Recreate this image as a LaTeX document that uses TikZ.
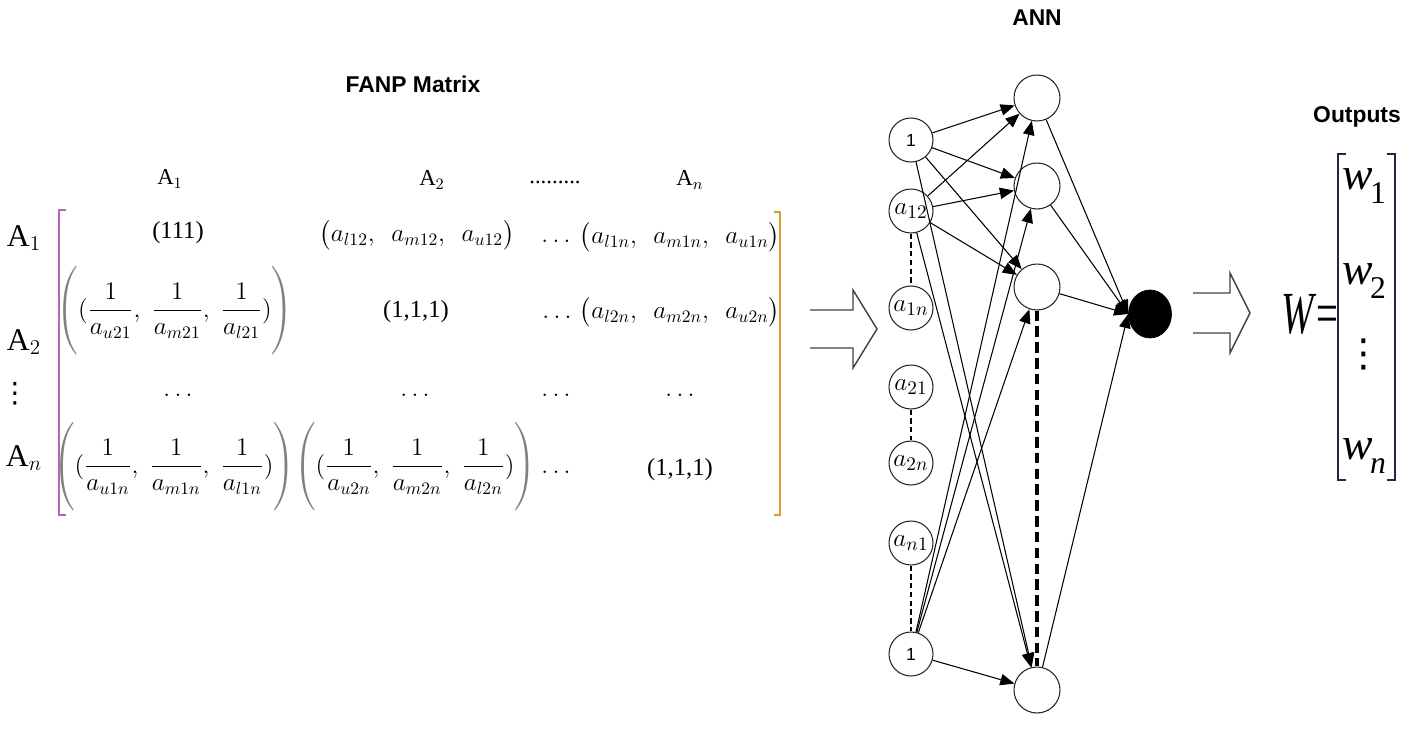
\documentclass[tikz,border=0pt]{standalone}
\usepackage{amsmath,amssymb}
\usepackage{fontspec}
\setmainfont{Liberation Serif}
\setsansfont{Liberation Sans}
\newfontfamily\symfont{DejaVu Sans}
\usepackage{tikz}
\usetikzlibrary{arrows.meta, positioning, shapes.geometric}

\definecolor{leftbar}{RGB}{180,100,185}
\definecolor{rightbar}{RGB}{215,160,45}
\definecolor{outbar}{RGB}{30,40,70}

\newcommand{\fsz}[1]{\fontsize{#1}{#1}\selectfont}
\newcommand{\wout}[1]{\textit{w}\kern-0.05em\raisebox{-0.3em}{\fsz{18}#1}}
\newcommand{\colgap}{\hspace{4pt}}
\newcommand{\tallbox}{\rule[-23pt]{0pt}{50pt}}
\newcommand{\fgroup}[3]{\color{gray}\left(\tallbox\color{black}(\dfrac{1}{#1},\colgap \dfrac{1}{#2},\colgap \dfrac{1}{#3})\color{gray}\right)}

\begin{document}
\begin{tikzpicture}[
    x=0.02cm, y=-0.02cm,
    >={Triangle[length=8pt,width=6.5pt]},
    title/.style={font=\sffamily\bfseries\fsz{13}},
    head/.style={inner sep=0pt, font=\fsz{13}},
    rowlab/.style={inner sep=0pt, font=\fsz{18}},
    entry/.style={inner sep=0pt, font=\fsz{14}},
    neuron/.style={circle, draw=black!85, line width=0.6pt, minimum size=0.88cm, inner sep=0pt, font=\fsz{15}},
    hidden/.style={neuron, minimum size=0.92cm},
    final/.style={ellipse, fill=black, draw=black, minimum width=0.86cm, minimum height=0.96cm},
    arrow/.style={->, line width=0.6pt},
    gap/.style={line width=1.3pt, dash pattern=on 3pt off 2pt},
    biggap/.style={line width=2.4pt, dash pattern=on 6pt off 3pt},
    hollow/.style={line width=0.8pt, draw=black!75, line join=miter}
]
\useasboundingbox (0,0) rectangle (1418,730);

% Titles
\node[title] (fanp) at (413,84) {FANP Matrix};
\node[title] (ann) at (1037,18) {ANN};
\node[title] (outputs) at (1357,117) {Outputs};

% Matrix headers
\node[head] (c1) at (170,179) {A$_1$};
\node[head] (c2) at (432,180) {A$_2$};
\node[head] (cdots) at (555,182) {.........};
\node[head] (cn) at (690,180) {A$_n$};
\node[rowlab] (r1) at (24,238) {A$_1$};
\node[rowlab] (r2) at (24,342) {A$_2$};
\node[inner sep=0pt, font=\symfont\fsz{16}] (rdots) at (15,394) {⋮};
\node[rowlab] (rn) at (24,458) {A$_n$};

% Matrix entries
\node[entry] (e11) at (178,233) {(111)};
\node[entry] (e12) at (417,235) {$\bigl(a_{l12},\ \ a_{m12},\ \ a_{u12}\bigr)$};
\node[entry] (e13) at (556,241) {$\ldots$};
\node[entry] (e14) at (680,237) {$\bigl(a_{l1n},\ \ a_{m1n},\ \ a_{u1n}\bigr)$};
\node[entry] (e21) at (175,312) {$\fgroup{a_{u21}}{a_{m21}}{a_{l21}}$};
\node[entry] (e22) at (416,312) {(1,1,1)};
\node[entry] (e23) at (557,317) {$\ldots$};
\node[entry] (e24) at (680,312) {$\bigl(a_{l2n},\ \ a_{m2n},\ \ a_{u2n}\bigr)$};
\node[entry] (e31) at (178,395) {$\ldots$};
\node[entry] (e32) at (415,395) {$\ldots$};
\node[entry] (e33) at (556,395) {$\ldots$};
\node[entry] (e34) at (680,395) {$\ldots$};
\node[entry] (e41) at (174,468) {$\fgroup{a_{u1n}}{a_{m1n}}{a_{l1n}}$};
\node[entry] (e42) at (415,468) {$\fgroup{a_{u2n}}{a_{m2n}}{a_{l2n}}$};
\node[entry] (e43) at (556,472) {$\ldots$};
\node[entry] (e44) at (680,470) {(1,1,1)};

% Matrix brackets
\draw[leftbar, line width=1.2pt] (66,210) -- (59,210) -- (59,515) -- (66,515);
\draw[rightbar, line width=1.2pt] (774,212) -- (780,212) -- (780,515) -- (774,515);

% Hollow arrows
\draw[hollow] (810,310) -- (853,310) -- (853,290) -- (877,329) -- (853,368) -- (853,348) -- (810,348);
\draw[hollow] (1193,293) -- (1230,293) -- (1230,273) -- (1250,313) -- (1230,353) -- (1230,333) -- (1193,333);

% Input layer
\foreach \name/\y/\lab in {i1/140/{\sffamily\fsz{10}1}, i2/211/{$a_{12}$}, i3/308/{$a_{1n}$},
    i4/387/{$a_{21}$}, i5/463/{$a_{2n}$}, i6/543/{$a_{n1}$}, i7/654/{\sffamily\fsz{10}1}}
  \node[neuron] (\name) at (911,\y) {\lab};

% Hidden layer
\foreach \name/\y in {h1/98, h2/186, h3/287, h4/690}
  \node[hidden] (\name) at (1037,\y) {};

% Output neuron
\node[final] (out) at (1150,314) {};

% Connections
\foreach \s in {i1,i2,i7}
  \foreach \t in {h1,h2,h3,h4}
    \draw[arrow] (\s) -- (\t);
\foreach \t in {h1,h2,h3,h4}
  \draw[arrow] (\t) -- (out.west);

\draw[gap] (i2) -- (i3);
\draw[gap] (i4) -- (i5);
\draw[gap] (i6) -- (i7);
\draw[biggap] (h3) -- (h4);

% Output vector
\node[inner sep=0pt, font=\fsz{34}, anchor=east] (W) at (1339,314) {\scalebox{0.65}[1]{\textit{W}=}};
\node[inner sep=0pt, font=\fsz{26}] (w1) at (1364,186) {\wout{1}};
\node[inner sep=0pt, font=\fsz{26}] (w2) at (1364,281) {\wout{2}};
\node[inner sep=0pt, font=\symfont\fsz{22}] (wdots) at (1364,354) {⋮};
\node[inner sep=0pt, font=\fsz{26}] (wn) at (1364,456) {\wout{\textit{n}}};
\draw[outbar, line width=1.2pt] (1346,154) -- (1338,154) -- (1338,480) -- (1346,480);
\draw[outbar, line width=1.2pt] (1387,154) -- (1395,154) -- (1395,480) -- (1387,480);

\end{tikzpicture}
\end{document}
